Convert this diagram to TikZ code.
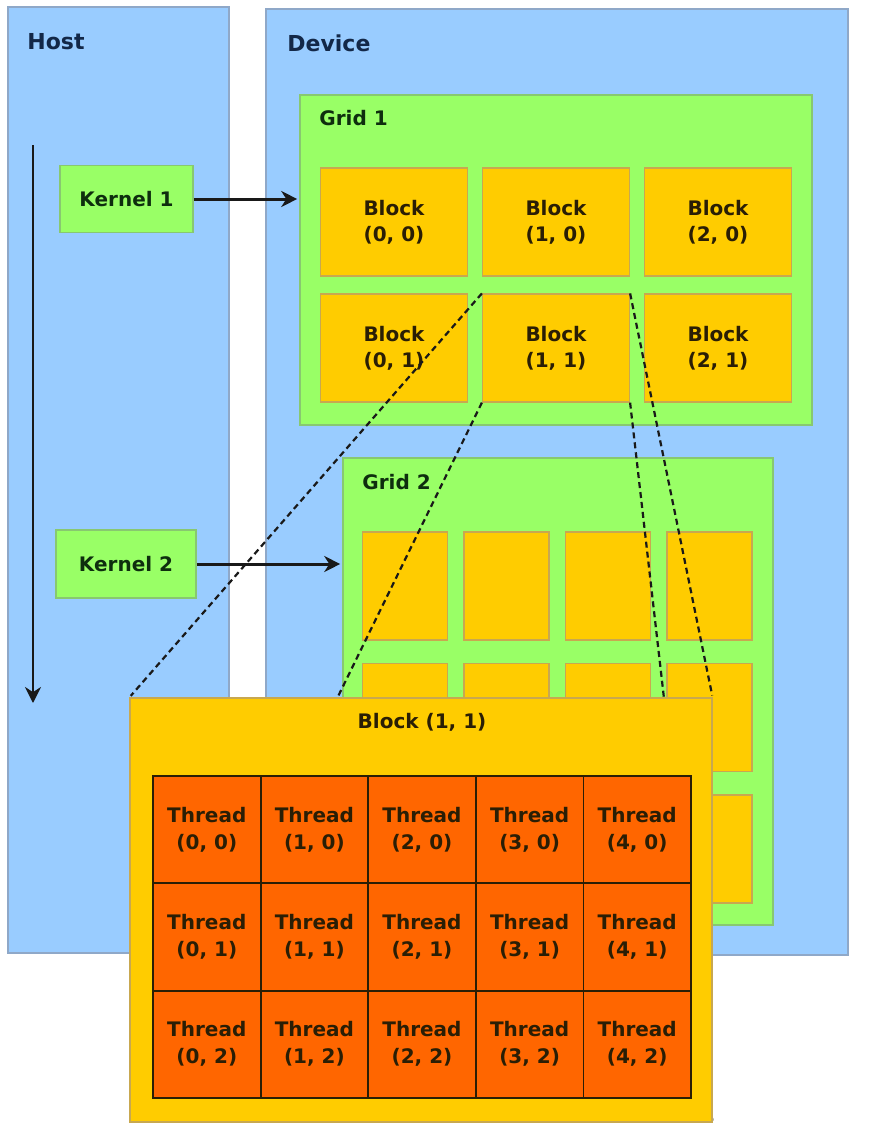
\documentclass[tikz,border=0pt]{standalone}
\usepackage{fontspec}
\setmainfont{DejaVu Sans}
\usetikzlibrary{arrows.meta}
\definecolor{hostblue}{HTML}{99CCFF}
\definecolor{gridgreen}{HTML}{99FF66}
\definecolor{blockgold}{HTML}{FFCC00}
\definecolor{threadorange}{HTML}{FF6600}
\definecolor{panelline}{HTML}{8FA8C8}
\definecolor{gridline}{HTML}{88C870}
\definecolor{blockline}{HTML}{C8A850}
\definecolor{titleblue}{HTML}{132848}
\definecolor{inkgreen}{HTML}{0E2E0E}
\definecolor{inkdark}{HTML}{2A1E05}
\pgfdeclarelayer{front}
\pgfsetlayers{main,front}

\begin{document}
\begin{tikzpicture}[x=0.5pt, y=-0.5pt, >={Stealth[length=8pt, width=8pt]}, shorten >=1pt,
	panelbox/.style={draw=panelline, fill=hostblue, line width=0.8pt, inner sep=0pt},
	gridbox/.style={draw=gridline, fill=gridgreen, line width=0.8pt, inner sep=0pt},
	kernelbox/.style={gridbox, font=\fontsize{10}{12}\selectfont\bfseries, text=inkgreen},
	blockbox/.style={draw=blockline, fill=blockgold, line width=0.6pt, inner sep=0pt, align=center, font=\fontsize{10}{13}\selectfont\bfseries, text=inkdark},
	threadbox/.style={draw=inkdark, fill=threadorange, line width=0.9pt, inner sep=0pt, minimum width=53.8pt, minimum height=53.65pt, align=center, font=\fontsize{10}{13.5}\selectfont\bfseries, text=inkdark},
	heading/.style={anchor=west, inner sep=0pt, font=\fontsize{11}{13}\selectfont\bfseries, text=titleblue},
	launch/.style={->, line width=1.5pt, black!90},
	zoomline/.style={dash pattern=on 3pt off 2pt, line width=1.1pt, black!90}]
	\useasboundingbox (0,0) rectangle (893,1124);

	% host and device
	\node[panelbox, minimum width=110.5pt, minimum height=473pt] (host) at (118.5,480) {};
	\node[panelbox, minimum width=291pt, minimum height=473pt] (device) at (557,482) {};
	\node[heading] (hostlabel) at (27,42) {Host};
	\node[heading] (devicelabel) at (287,43) {Device};

	% kernels on the host
	\node[kernelbox, minimum width=66.5pt, minimum height=33.5pt] (kernel1) at (126.5,199) {Kernel 1};
	\node[kernelbox, minimum width=70pt, minimum height=34pt] (kernel2) at (126,564) {Kernel 2};

	% grid 1
	\node[gridbox, minimum width=256pt, minimum height=165pt] (grid1) at (556,260) {};
	\node[heading, text=inkgreen, font=\fontsize{10}{12}\selectfont\bfseries] (grid1label) at (319,118) {Grid 1};
	\foreach \i/\x in {0/394,1/556,2/718}
		\foreach \j/\y in {0/222,1/348}
			\node[blockbox, minimum width=73.5pt, minimum height=54pt] (b\i\j) at (\x,\y) {Block\\(\i, \j)};

	% grid 2
	\node[gridbox, minimum width=215pt, minimum height=233.5pt] (grid2) at (558,691.5) {};
	\node[heading, text=inkgreen, font=\fontsize{10}{12}\selectfont\bfseries] (grid2label) at (362,482) {Grid 2};
	\foreach \i/\x in {0/405,1/506.5,2/608,3/709.5}
		\foreach \j/\y in {0/586,1/717.5,2/849}
			\node[blockbox, minimum width=42.5pt, minimum height=54pt] (c\i\j) at (\x,\y) {};

	% launches and time line
	\draw[launch] (kernel1) -- (kernel1 -| grid1.west);
	\draw[launch] (kernel2) -- (kernel2 -| grid2.west);
	\coordinate (tstart) at (33,145);
	\coordinate (tend) at (33,705);
	\draw[launch, line width=1.2pt] (tstart) -- (tend);

	% block (1, 1) close up
	\begin{pgfonlayer}{front}
		\node[blockbox, minimum width=291pt, minimum height=212pt] (bigblock) at (421,910) {};
		\node[blockbox, draw=none, fill=none] (biglabel) at (422,722) {Block (1, 1)};
		\foreach \i in {0,...,4}
			\foreach \j in {0,1,2}
				\node[threadbox] (t\i\j) at ({206.8+107.6*\i},{829.7+107.3*\j}) {Thread\\(\i, \j)};
	\end{pgfonlayer}
	\draw[zoomline] (b11.north west) -- (bigblock.north west);
	\draw[zoomline] (b11.south west) -- (bigblock.south west);
	\draw[zoomline] (b11.north east) -- (bigblock.north east);
	\draw[zoomline] (b11.south east) -- (bigblock.south east);
\end{tikzpicture}
\end{document}
